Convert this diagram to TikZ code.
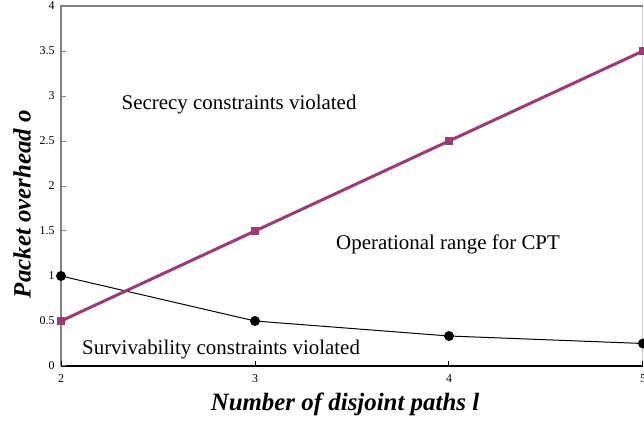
\documentclass[tikz,border=0pt]{standalone}
\usepackage{fontspec}
\setmainfont{Liberation Serif}
\usepackage{tikz}
\usetikzlibrary{calc}

\definecolor{cptpurple}{RGB}{156,58,116}
\definecolor{axisgray}{RGB}{128,128,128}
\definecolor{framegray}{RGB}{205,205,205}

\begin{document}
\begin{tikzpicture}[
    x = 3.422cm, y = 1.5875cm,
    every node/.style = {font=\fontsize{10.5}{12}\selectfont},
    ticklabel/.style = {font=\fontsize{6}{7}\selectfont, inner sep=0pt},
    axislabel/.style = {font=\fontsize{12.5}{14}\selectfont\bfseries\itshape},
    cptline/.style = {draw=cptpurple, line width=1.5pt},
    invline/.style = {draw=black, line width=0.5pt},
    dotmark/.style = {circle, fill=black, inner sep=0pt, minimum size=5pt},
    boxmark/.style = {rectangle, fill=cptpurple, inner sep=0pt, minimum size=4pt}
  ]
  \useasboundingbox (1.6856,-0.6444) rectangle (5.0052,4.0667);

  % frame and axes
  \draw[framegray, line width=0.5pt] (5,0) -- (5,4);
  \draw[axisgray, line width=0.8pt] (2,0) -- (2,4) -- (5,4);
  \draw[black, line width=0.8pt] (2,0) -- (5,0);

  % ticks
  \foreach \y/\lab in {0/0, 0.5/0.5, 1/1, 1.5/1.5, 2/2, 2.5/2.5, 3/3, 3.5/3.5, 4/4} {
    \draw[axisgray, line width=0.5pt] (2,\y) -- ++(2.5pt,0);
    \node[ticklabel, anchor=east] (ytick\lab) at ($(2,\y)+(-3pt,0)$) {\lab};
  }
  \foreach \x in {2,3,4,5} {
    \draw[black, line width=0.5pt] (\x,0) -- ++(0,2.5pt);
    \node[ticklabel, anchor=north] (xtick\x) at ($(\x,0)+(0,-4pt)$) {\x};
  }

  % axis labels
  \node[axislabel] (xlabel) at (3.464,-0.422) {Number of disjoint paths l};
  \node[axislabel, rotate=90] (ylabel) at (1.799,1.8) {Packet overhead o};

  % data points
  \node[dotmark] (s2) at (2,1) {};
  \node[dotmark] (s3) at (3,0.5) {};
  \node[dotmark] (s4) at (4,0.3333) {};
  \node[dotmark] (s5) at (5,0.25) {};
  \node[boxmark] (c2) at (2,0.5) {};
  \node[boxmark] (c3) at (3,1.5) {};
  \node[boxmark] (c4) at (4,2.5) {};
  \node[boxmark] (c5) at (5,3.5) {};

  % curves
  \draw[invline] (s2.center) -- (s3.center) -- (s4.center) -- (s5.center);
  \draw[cptline] (c2.center) -- (c3.center) -- (c4.center) -- (c5.center);

  % region labels
  \node (secrecy) at (2.918,2.911) {Secrecy constraints violated};
  \node (oprange) at (3.995,1.356) {Operational range for CPT};
  \node (surviv)  at (2.825,0.178) {Survivability constraints violated};

\end{tikzpicture}
\end{document}
